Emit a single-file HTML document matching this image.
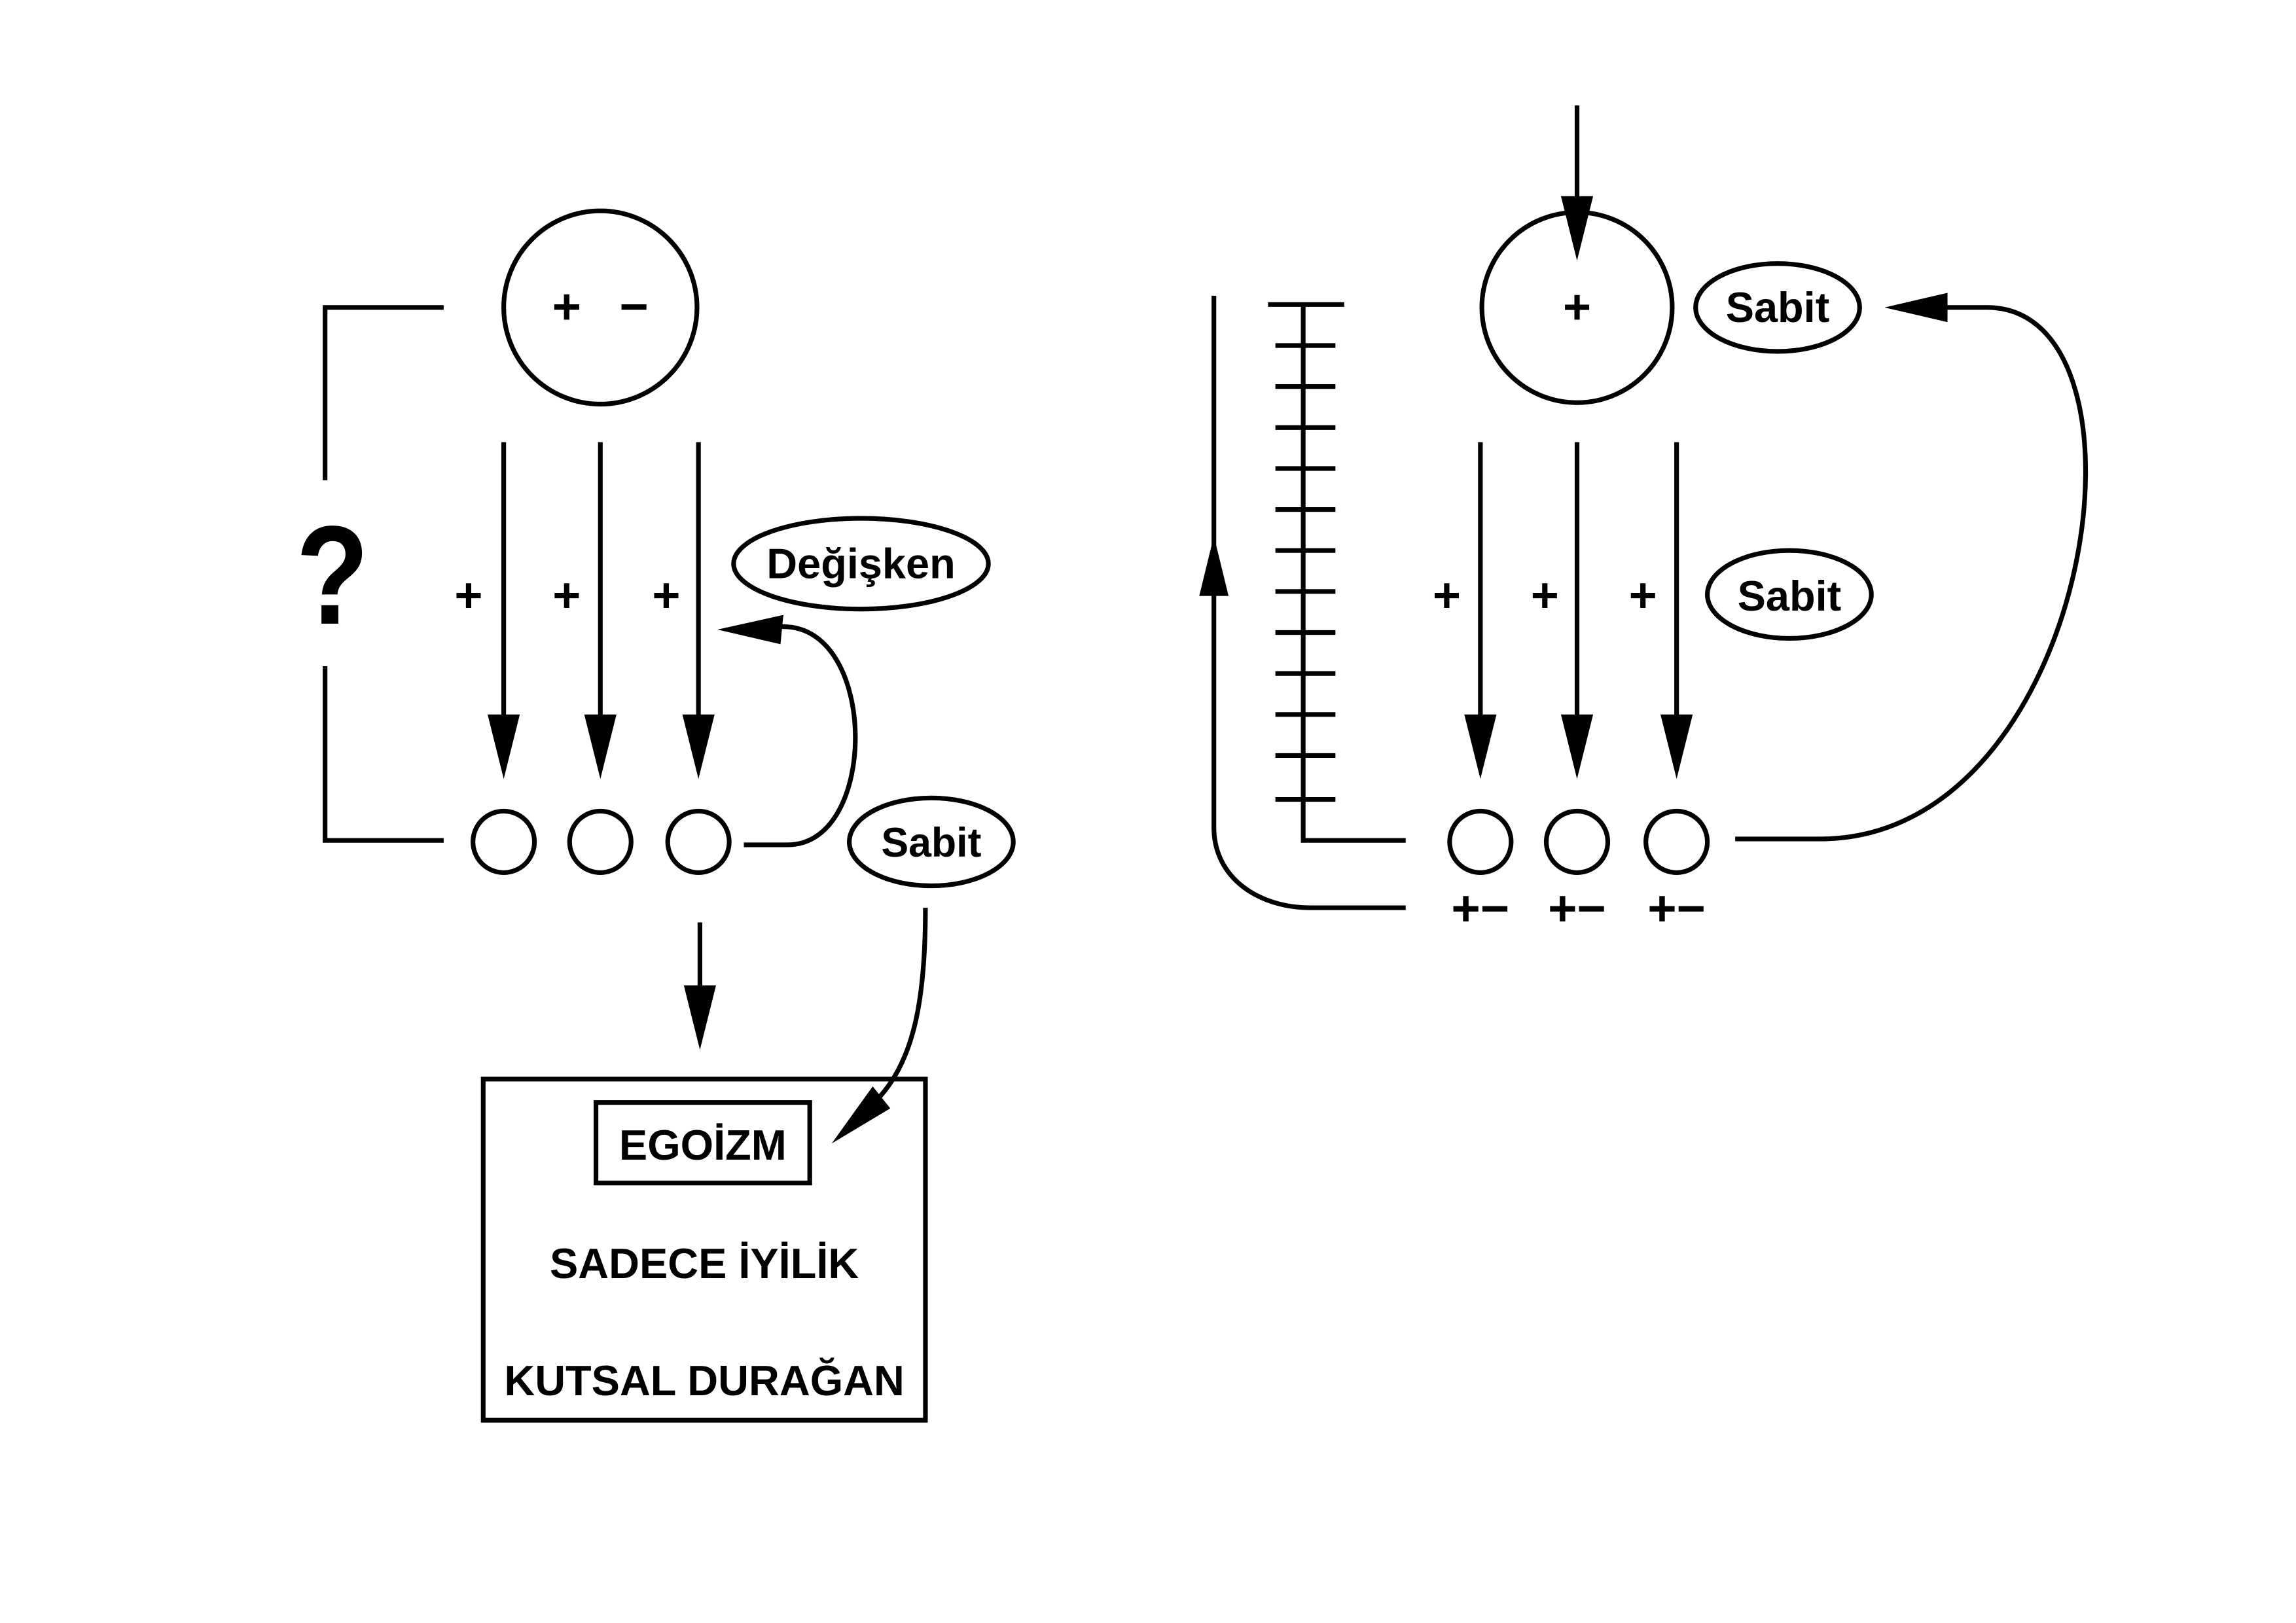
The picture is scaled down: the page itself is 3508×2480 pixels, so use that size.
<!DOCTYPE html>
<html><head><meta charset="utf-8"><style>
html,body{margin:0;padding:0;background:#fff;}
svg{display:block;}
text{font-family:"Liberation Sans",sans-serif;font-weight:bold;fill:#000;}
</style></head><body>
<svg width="3508" height="2480" viewBox="0 0 1568 1108.5" preserveAspectRatio="none" xmlns="http://www.w3.org/2000/svg">
<rect width="1568" height="1108.5" fill="#fff"/>
<g fill="none" stroke="#000" stroke-width="3.2">
<!-- LEFT -->
<circle cx="410" cy="210" r="66"/>
<polyline points="303,210 222,210 222,328"/>
<polyline points="222,455 222,574 303,574"/>
<line x1="344" y1="302" x2="344" y2="495"/>
<line x1="410" y1="302" x2="410" y2="495"/>
<line x1="477" y1="302" x2="477" y2="495"/>
<ellipse cx="588" cy="385" rx="87" ry="31"/>
<circle cx="344" cy="575" r="21"/>
<circle cx="410" cy="575" r="21"/>
<circle cx="477" cy="575" r="21"/>
<path d="M508,577 L538,577 C600,577 600,428 535,428 L528,428"/>
<ellipse cx="636" cy="575" rx="56" ry="30"/>
<line x1="478" y1="630" x2="478" y2="680"/>
<path d="M632,620 C632,680 625,725 598,752"/>
<rect x="330" y="737" width="302" height="233"/>
<rect x="407" y="753" width="146" height="55"/>
<!-- RIGHT -->
<line x1="1077" y1="72" x2="1077" y2="140"/>
<circle cx="1077" cy="210" r="65"/>
<ellipse cx="1214" cy="210" rx="56" ry="30"/>
<path d="M1328,210 L1357,210 C1480,210 1430,573 1243,573 L1185,573"/>
<polyline points="890,208 890,574 960,574"/>
<line x1="866" y1="208" x2="918" y2="208"/>
<path d="M871,236H912M871,264H912M871,292H912M871,320H912M871,348H912M871,376H912M871,404H912M871,432H912M871,460H912M871,488H912M871,516H912M871,546H912"/>
<path d="M829,202 L829,565 C829,600 860,620 895,620 L960,620"/>
<line x1="1011" y1="302" x2="1011" y2="495"/>
<line x1="1077" y1="302" x2="1077" y2="495"/>
<line x1="1145" y1="302" x2="1145" y2="495"/>
<ellipse cx="1222" cy="406" rx="56" ry="30"/>
<circle cx="1011" cy="575" r="21"/>
<circle cx="1077" cy="575" r="21"/>
<circle cx="1145" cy="575" r="21"/>
</g>
<g fill="#000">
<polygon points="333,488 355,488 344,532"/>
<polygon points="399,488 421,488 410,532"/>
<polygon points="466,488 488,488 477,532"/>
<polygon points="490,430 535,420 533,440"/>
<polygon points="467,673 489,673 478,717"/>
<polygon points="568,781 608,757 596,742"/>
<polygon points="1066,134 1088,134 1077,178"/>
<polygon points="1287,210 1330,200 1330,220"/>
<polygon points="819,407 839,407 829,366"/>
<polygon points="1000,488 1022,488 1011,532"/>
<polygon points="1066,488 1088,488 1077,532"/>
<polygon points="1134,488 1156,488 1145,532"/>
</g>
<g text-anchor="middle">
<text x="387" y="221" font-size="34">+</text>
<text x="433" y="221" font-size="34">−</text>
<text x="227" y="426" font-size="96" transform="translate(227 0) scale(0.85 1) translate(-227 0)">?</text>
<text x="320" y="418" font-size="33">+</text>
<text x="387" y="418" font-size="33">+</text>
<text x="455" y="418" font-size="33">+</text>
<text x="588" y="395" font-size="29">Değişken</text>
<text x="636" y="585" font-size="28">Sabit</text>
<text x="480" y="792" font-size="29">EGOİZM</text>
<text x="481" y="873" font-size="29">SADECE İYİLİK</text>
<text x="481" y="953" font-size="29">KUTSAL DURAĞAN</text>
<text x="1077" y="221" font-size="33">+</text>
<text x="1214" y="220" font-size="29">Sabit</text>
<text x="988" y="418" font-size="33">+</text>
<text x="1055" y="418" font-size="33">+</text>
<text x="1122" y="418" font-size="33">+</text>
<text x="1222" y="417" font-size="29">Sabit</text>
<text x="1011" y="632" font-size="34">+−</text>
<text x="1077" y="632" font-size="34">+−</text>
<text x="1145" y="632" font-size="34">+−</text>
</g>
</svg>
</body></html>
